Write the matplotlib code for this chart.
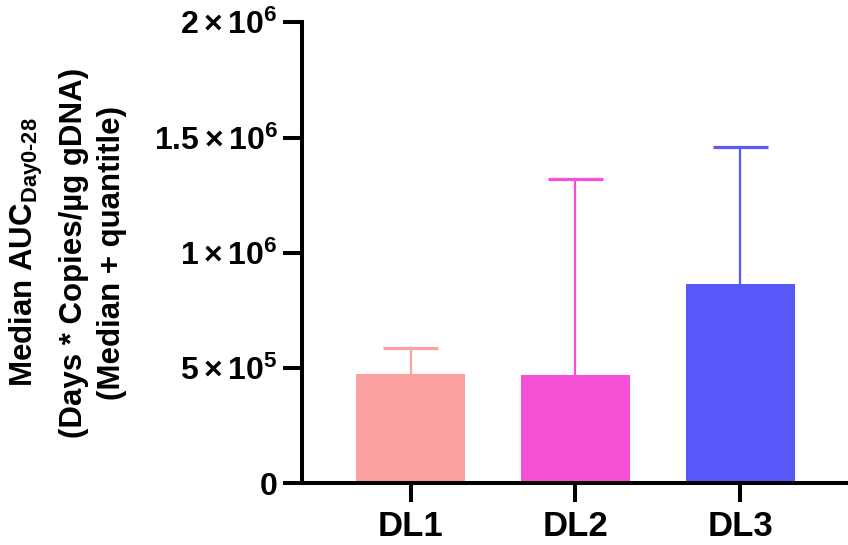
import matplotlib
matplotlib.use("Agg")
import matplotlib.pyplot as plt

plt.rcParams['font.family'] = ['Liberation Sans', 'DejaVu Sans']
plt.rcParams['font.weight'] = 'bold'
plt.rcParams['mathtext.fontset'] = 'custom'
plt.rcParams['mathtext.rm'] = 'Liberation Sans:bold'
plt.rcParams['mathtext.bf'] = 'Liberation Sans:bold'
plt.rcParams['mathtext.it'] = 'Liberation Sans:bold'

# Data
categories = ['DL1', 'DL2', 'DL3']
medians = [473000, 468000, 865000]
upper_quantiles = [588000, 1319000, 1459000]
bar_colors = ['#FAA0A0', '#F650D6', '#5858F8']
err_colors = ['#F9A3A3', '#F84FD8', '#5A5AF8']
ytick_values = [0, 500000, 1000000, 1500000, 2000000]
ytick_labels = ['0', r'$\mathbf{5\times10^{5}}$', r'$\mathbf{1\times10^{6}}$',
                r'$\mathbf{1.5\times10^{6}}$', r'$\mathbf{2\times10^{6}}$']
ylabel_lines = ['Median AUC$_{\\mathregular{Day0\u201028}}$',
                '(Days * Copies/\u00b5g gDNA)',
                '(Median + quantitle)']

W, H = 848, 545
fig = plt.figure(figsize=(W / 100, H / 100), dpi=100)
ax = fig.add_axes([302 / W, (H - 483.3) / H, (W - 302) / W, (483.3 - 22.3) / H])

x = list(range(len(categories)))
bw = 0.664
ax.bar(x, medians, width=bw, color=bar_colors, zorder=2)
ax.vlines(x, medians, upper_quantiles, colors=err_colors, linewidth=1.6, zorder=2)
ax.hlines(upper_quantiles, [xi - bw / 4 for xi in x], [xi + bw / 4 for xi in x],
          colors=err_colors, linewidth=2.3, zorder=2)

ax.set_xlim(-0.658, 2.653)
ax.set_ylim(0, 2000000)

for s in ['top', 'right']:
    ax.spines[s].set_visible(False)
for s in ['left', 'bottom']:
    ax.spines[s].set_linewidth(2.9)
    ax.spines[s].set_zorder(3)

ax.set_xticks(x)
ax.set_xticklabels(categories, fontsize=25, fontweight='bold')
ax.set_yticks(ytick_values)
ax.set_yticklabels(ytick_labels, fontsize=23, fontweight='bold')
ax.tick_params(axis='both', length=14, width=2.9, direction='out')
ax.tick_params(axis='y', pad=3.5)
ax.tick_params(axis='x', pad=5.5)

baselines_px = [33, 82, 120]
for line, bx in zip(ylabel_lines, baselines_px):
    fig.text(bx / W, (H - 252.5) / H, line, rotation=90, rotation_mode='anchor',
             ha='center', va='baseline', fontsize=22.5, fontweight='bold')

fig.savefig('out.png', dpi=100)
